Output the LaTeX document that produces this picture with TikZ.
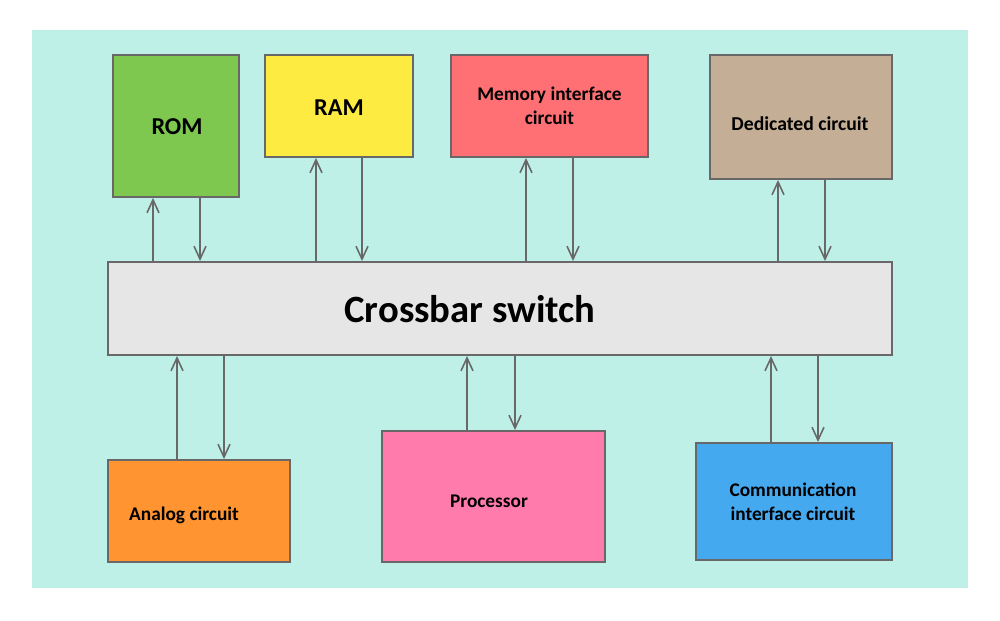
\documentclass[tikz,border=0pt]{standalone}
\usepackage{fontspec}
\setmainfont{Carlito}
\usetikzlibrary{arrows.meta}
\definecolor{bgteal}{HTML}{BFF0E7}
\definecolor{edgegray}{HTML}{686868}
\definecolor{romgreen}{HTML}{7EC850}
\definecolor{ramyellow}{HTML}{FDEB42}
\definecolor{memred}{HTML}{FF7074}
\definecolor{dedtan}{HTML}{C4AE96}
\definecolor{xbargray}{HTML}{E6E6E6}
\definecolor{anaorange}{HTML}{FF9431}
\definecolor{procpink}{HTML}{FF7BAC}
\definecolor{comblue}{HTML}{45A9F0}
\tikzset{
  unit/.style={draw=edgegray, line width=1.1pt, rectangle, inner sep=0pt},
  link/.style={draw=edgegray, line width=0.9pt, -{Straight Barb[length=2.6mm,width=2.4mm]}},
  lbl/.style={font=\bfseries, align=center, text=black}
}
\begin{document}
\begin{tikzpicture}[x=0.02cm, y=-0.02cm]
		\useasboundingbox (0,0) rectangle (1000,621);
		\fill[bgteal] (32,30) rectangle (968,588);

		% Top row: memories and circuits
		\node[unit, fill=romgreen, minimum width=2.52cm, minimum height=2.84cm] (rom) at (176,126) {};
		\node[lbl, font=\fontsize{13.8}{16}\selectfont\bfseries] (romtxt) at (177,127) {ROM};

		\node[unit, fill=ramyellow, minimum width=2.96cm, minimum height=2.04cm] (ram) at (339,106) {};
		\node[lbl, font=\fontsize{13.8}{16}\selectfont\bfseries] (ramtxt) at (339,108) {RAM};

		\node[unit, fill=memred, minimum width=3.94cm, minimum height=2.04cm] (mem) at (549.5,106) {};
		\node[lbl, font=\fontsize{11}{13.5}\selectfont\bfseries] (memtxt) at (549.5,106) {Memory interface\\circuit};

		\node[unit, fill=dedtan, minimum width=3.64cm, minimum height=2.48cm] (ded) at (801,117) {};
		\node[lbl, font=\fontsize{11.2}{13.5}\selectfont\bfseries] (dedtxt) at (800,124) {Dedicated circuit};

		% Crossbar switch
		\node[unit, fill=xbargray, minimum width=15.68cm, minimum height=1.86cm] (xbar) at (500,308.5) {};
		\node[lbl, font=\fontsize{22}{25}\selectfont\bfseries] (xbartxt) at (470,309) {Crossbar switch};

		% Bottom row
		\node[unit, fill=anaorange, minimum width=3.64cm, minimum height=2.04cm] (ana) at (199,511) {};
		\node[lbl, font=\fontsize{11}{13}\selectfont\bfseries] (anatxt) at (184,515) {Analog circuit};

		\node[unit, fill=procpink, minimum width=4.46cm, minimum height=2.62cm] (proc) at (493.5,496.5) {};
		\node[lbl, font=\fontsize{11}{13}\selectfont\bfseries] (proctxt) at (489,501) {Processor};

		\node[unit, fill=comblue, minimum width=3.92cm, minimum height=2.34cm] (com) at (794,501.5) {};
		\node[lbl, font=\fontsize{11}{13.5}\selectfont\bfseries] (comtxt) at (793,502) {Communication\\interface circuit};

		% Links to the top row
		\draw[link] (xbar.north -| 153,0) -- (rom.south -| 153,0);
		\draw[link] (rom.south -| 200,0) -- (xbar.north -| 200,0);
		\draw[link] (xbar.north -| 316,0) -- (ram.south -| 316,0);
		\draw[link] (ram.south -| 362,0) -- (xbar.north -| 362,0);
		\draw[link] (xbar.north -| 526,0) -- (mem.south -| 526,0);
		\draw[link] (mem.south -| 573,0) -- (xbar.north -| 573,0);
		\draw[link] (xbar.north -| 778,0) -- (ded.south -| 778,0);
		\draw[link] (ded.south -| 825,0) -- (xbar.north -| 825,0);

		% Links to the bottom row
		\draw[link] (ana.north -| 177,0) -- (xbar.south -| 177,0);
		\draw[link] (xbar.south -| 224,0) -- (ana.north -| 224,0);
		\draw[link] (proc.north -| 467,0) -- (xbar.south -| 467,0);
		\draw[link] (xbar.south -| 515,0) -- (proc.north -| 515,0);
		\draw[link] (com.north -| 771,0) -- (xbar.south -| 771,0);
		\draw[link] (xbar.south -| 818,0) -- (com.north -| 818,0);
\end{tikzpicture}
\end{document}
